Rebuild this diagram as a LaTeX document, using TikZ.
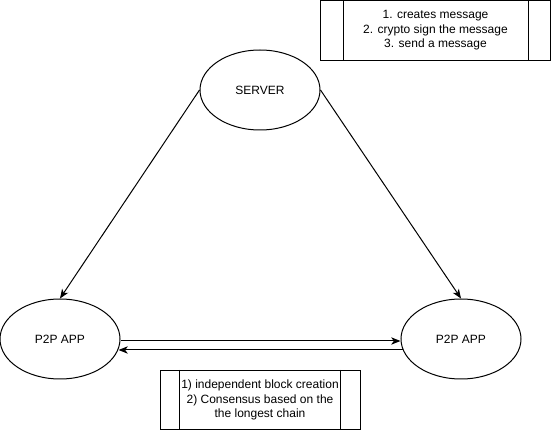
\documentclass[tikz,border=0pt]{standalone}
\usepackage{fontspec}
\setmainfont{Liberation Sans}
\usetikzlibrary{arrows.meta,shapes.geometric}
\begin{document}
\begin{tikzpicture}[x=0.75pt,y=-0.75pt,
  every node/.style={font=\fontsize{9}{10.9}\selectfont, inner sep=0pt},
  ell/.style={draw, ellipse, minimum width=90pt, minimum height=60pt, line width=0.75pt},
  proc/.style={draw, rectangle, line width=0.75pt, align=center},
  conn/.style={line width=0.75pt, -{Stealth[length=7pt,width=5.5pt,inset=2pt]}}]
\useasboundingbox (0,0) rectangle (551,431);
\node[ell] (srv) at (260,90) {SERVER};
\node[ell] (p1) at (60,339) {P2P APP};
\node[ell] (p2) at (461,339) {P2P APP};
% top-right process box
\node[proc, minimum width=172.5pt, minimum height=45pt] (steps) at (435.5,30.5) {1. creates message\\2. crypto sign the message\\3. send a message};
\draw[line width=0.75pt] ([xshift=17.25pt]steps.north west) -- ([xshift=17.25pt]steps.south west);
\draw[line width=0.75pt] ([xshift=-17.25pt]steps.north east) -- ([xshift=-17.25pt]steps.south east);
% bottom process box
\node[proc, minimum width=150pt, minimum height=44.25pt] (cons) at (260,400) {1) independent block creation\\2) Consensus based on the\\the longest chain};
\draw[line width=0.75pt] ([xshift=15pt]cons.north west) -- ([xshift=15pt]cons.south west);
\draw[line width=0.75pt] ([xshift=-15pt]cons.north east) -- ([xshift=-15pt]cons.south east);
% connectors
\draw[conn] (srv.west) -- (p1.north);
\draw[conn] (srv.east) -- (p2.north);
\draw[conn] ([yshift=-1.5pt]p1.east) -- ([yshift=-1.5pt]p2.west);
\draw[conn] ([xshift=1.5pt,yshift=-8.25pt]p2.west) -- ([xshift=-1.5pt,yshift=-8.25pt]p1.east);
\end{tikzpicture}
\end{document}
